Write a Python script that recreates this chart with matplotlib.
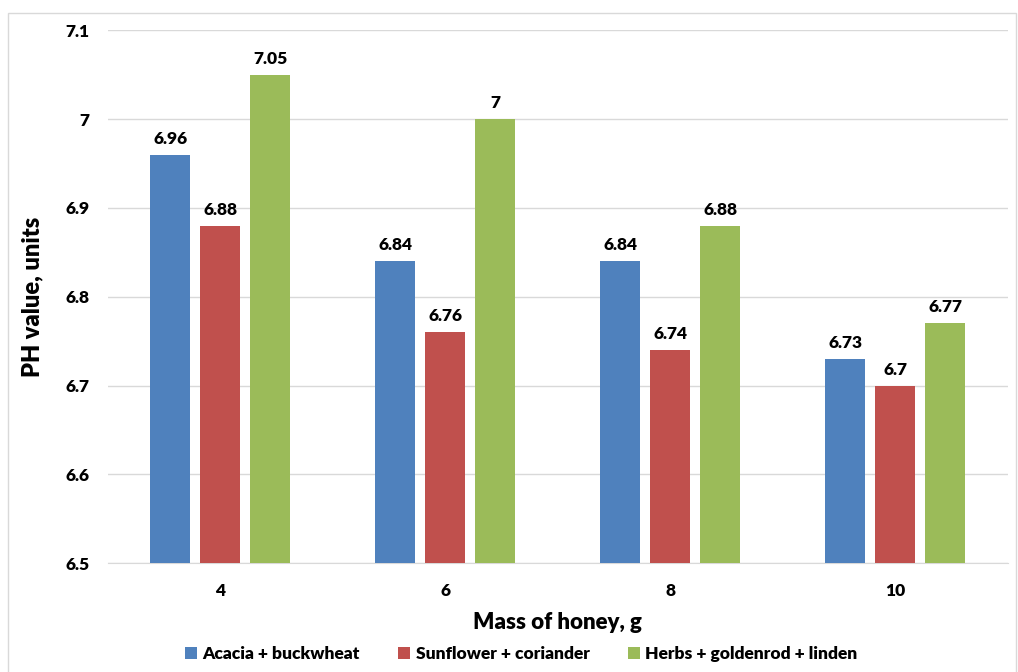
import matplotlib.pyplot as plt
import numpy as np
from matplotlib.patches import Rectangle

plt.rcParams['font.family'] = ['Lato', 'DejaVu Sans']
plt.rcParams['font.weight'] = 'heavy'

# pH of honey mixtures by mass of honey
masses = ['4', '6', '8', '10']
acacia = [6.96, 6.84, 6.84, 6.73]
sunflower = [6.88, 6.76, 6.74, 6.70]
herbs = [7.05, 7.00, 6.88, 6.77]
series_names = ['Acacia + buckwheat', 'Sunflower + coriander', 'Herbs + goldenrod + linden']
colors = ['#4F81BD', '#C0504D', '#9BBB59']

fig = plt.figure(figsize=(10.18, 6.72), dpi=100)
ax = fig.add_axes([0.106, 0.162, 0.884, 0.793])

x = np.arange(len(masses))
w = 0.178
step = 0.222
for i, (vals, name, c) in enumerate(zip([acacia, sunflower, herbs], series_names, colors)):
    pos = x + (i - 1) * step
    ax.bar(pos, np.array(vals) - 6.5, w, bottom=6.5, color=c, label=name, zorder=3)
    for p, v in zip(pos, vals):
        ax.text(p, v + 0.009, f'{v:g}', ha='center', va='bottom', fontsize=12.5, fontweight='heavy')

ax.set_ylim(6.5, 7.1)
ax.set_xlim(-0.5, 3.5)
ax.set_yticks([6.5, 6.6, 6.7, 6.8, 6.9, 7.0, 7.1])
ax.set_yticklabels(['6.5', '6.6', '6.7', '6.8', '6.9', '7', '7.1'])
ax.set_xticks(x)
ax.set_xticklabels(masses)
ax.tick_params(axis='both', length=0, labelsize=12.5, pad=14)
ax.tick_params(axis='y', pad=13)
ax.grid(axis='y', color='#D9D9D9', linewidth=1, zorder=0)
for s in ['top', 'right', 'left']:
    ax.spines[s].set_visible(False)
ax.spines['bottom'].set_color('#D9D9D9')

ax.set_xlabel('Mass of honey, g', fontsize=16, fontweight='heavy', labelpad=10)
ax.set_ylabel('PH value, units', fontsize=17, fontweight='heavy', labelpad=16)

fig.legend(loc='lower center', bbox_to_anchor=(0.512, -0.008), ncol=3, frameon=False,
           fontsize=12.5, handlelength=0.7, handleheight=0.7, handletextpad=0.3, columnspacing=2.2)

fig.patches.append(Rectangle((0.008, -0.02), 0.99, 1.0, transform=fig.transFigure,
                             fill=False, edgecolor='#D9D9D9', linewidth=1))

fig.savefig('out.png', dpi=100)
